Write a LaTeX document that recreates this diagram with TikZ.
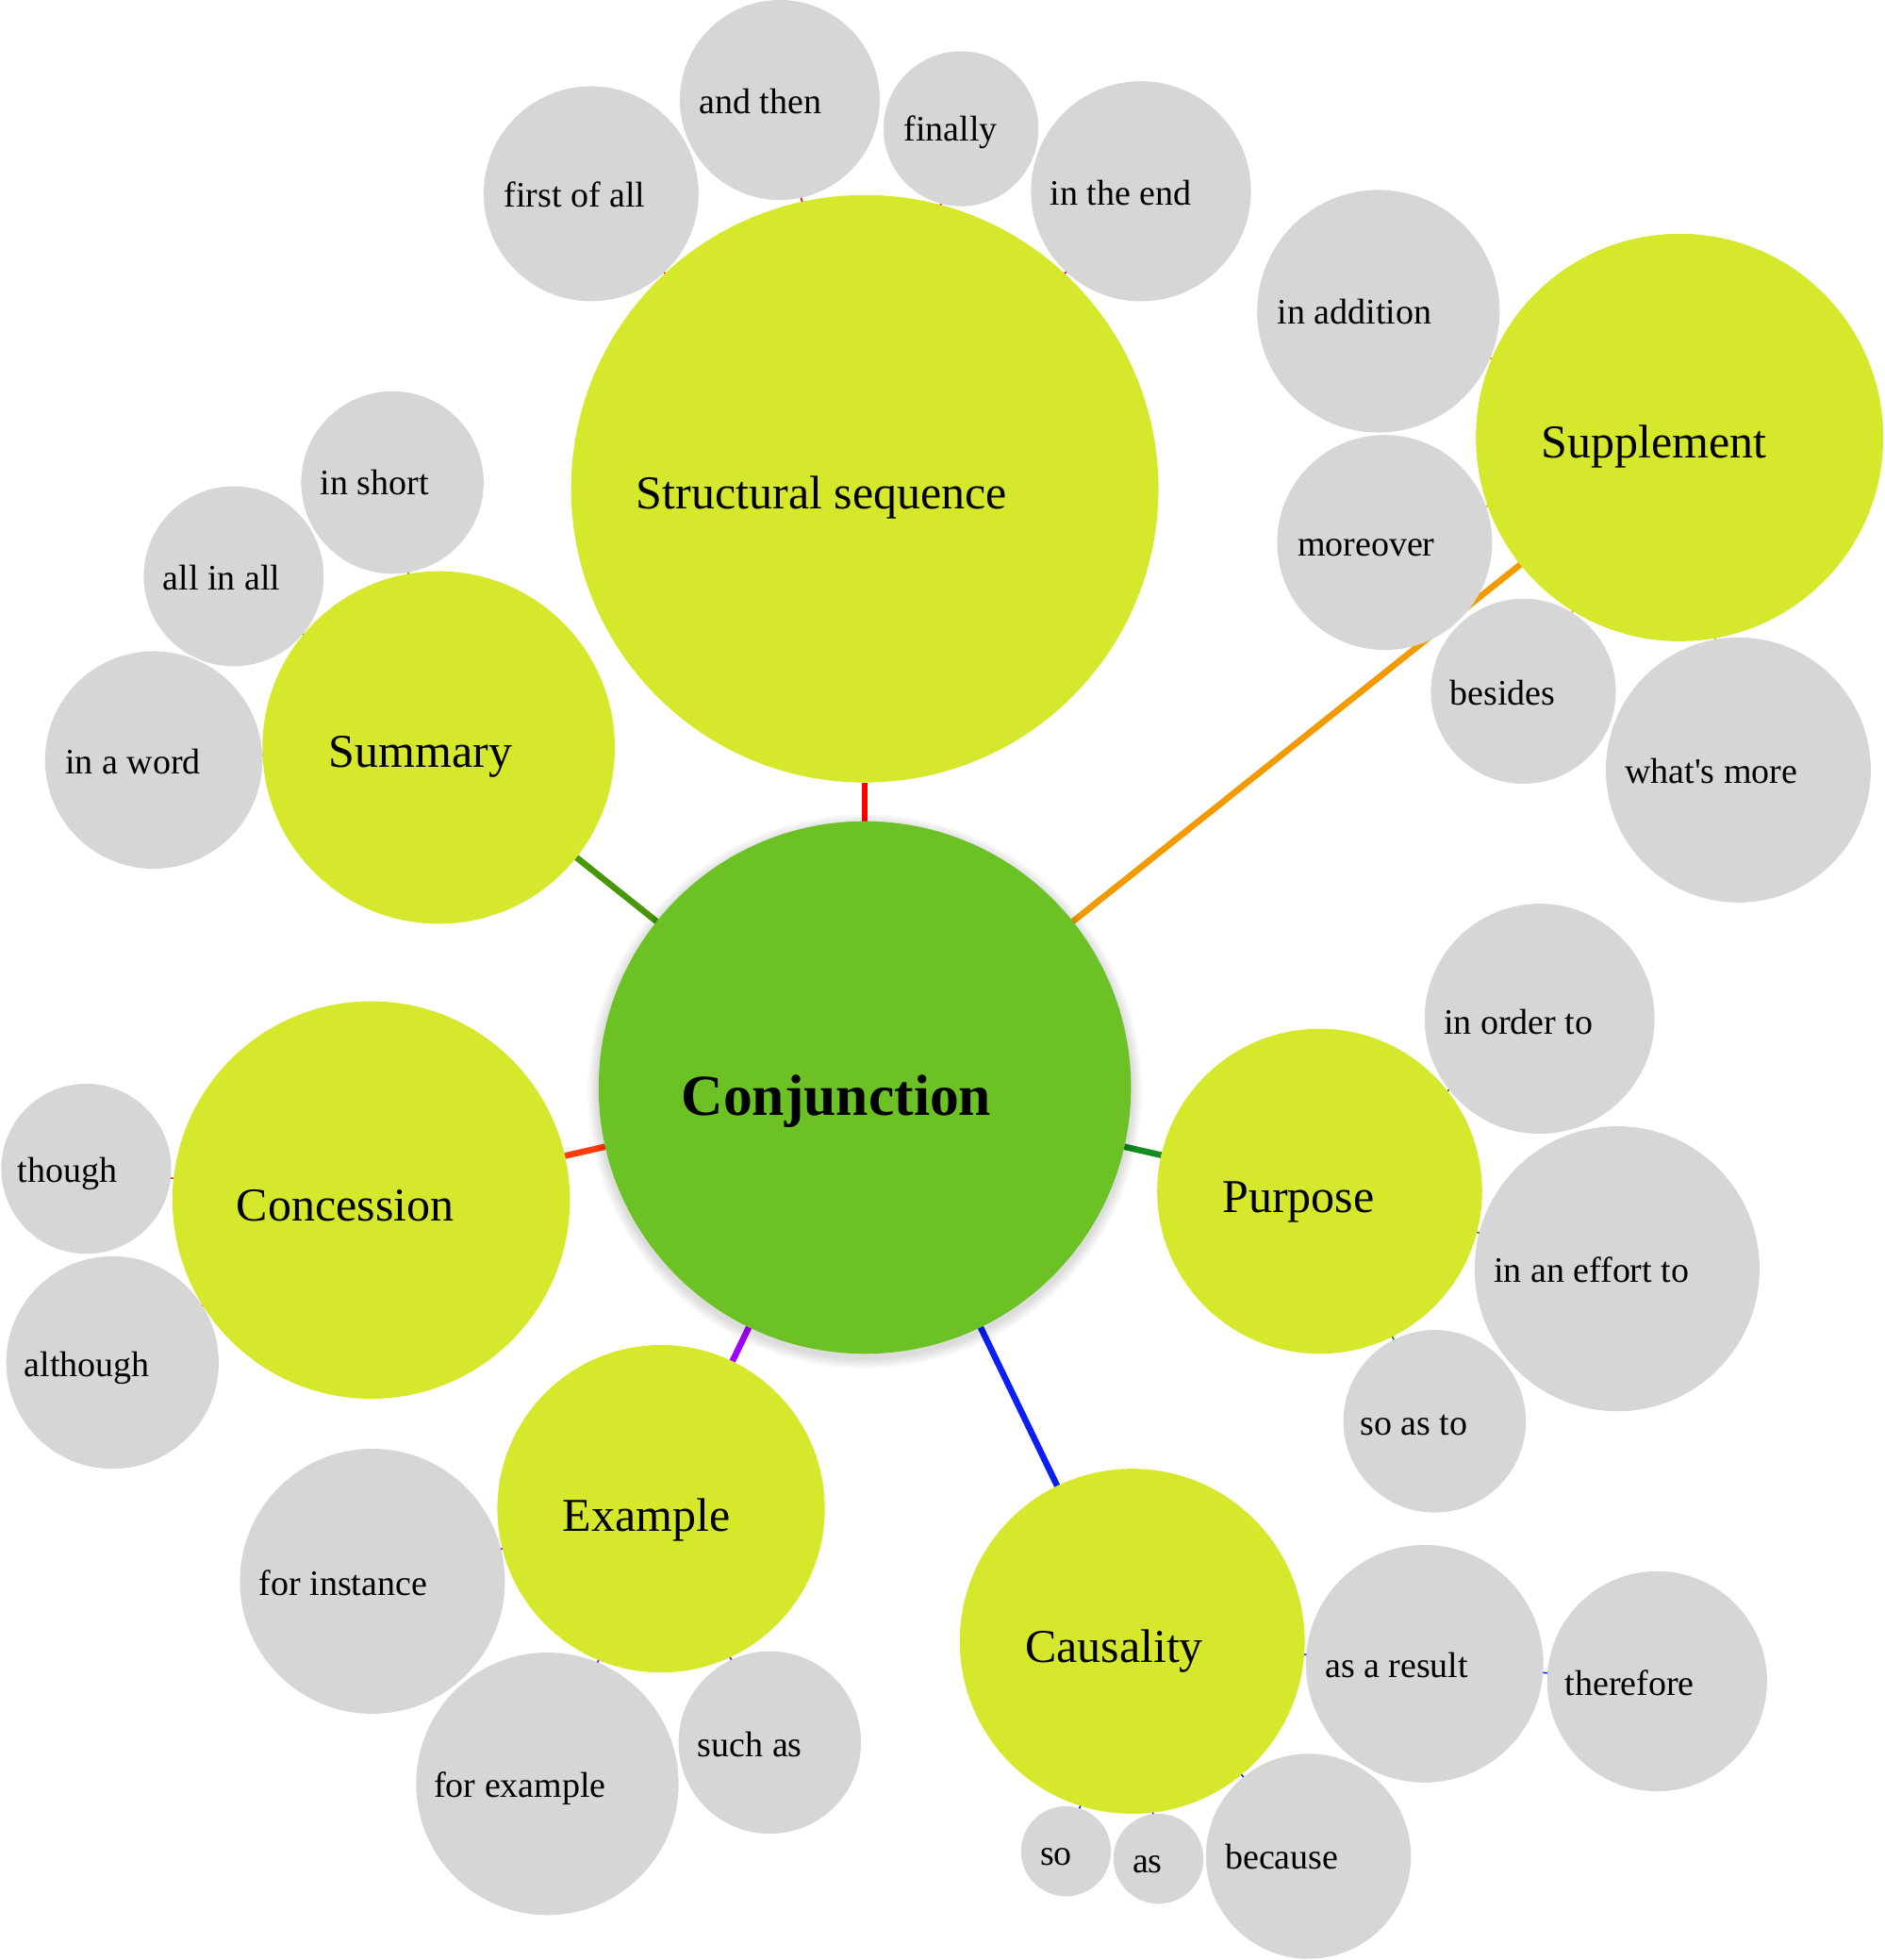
\documentclass[tikz,border=0pt]{standalone}
\usepackage{fontspec}
\setmainfont{Liberation Serif}
\pgfdeclarelayer{bg}
\pgfsetlayers{bg,main}
\definecolor{conjc}{RGB}{108,194,36}
\definecolor{catc}{RGB}{213,232,44}
\definecolor{grayc}{RGB}{214,214,214}
\definecolor{cStruct}{RGB}{255,0,0}
\definecolor{cSupp}{RGB}{243,154,0}
\definecolor{cSumm}{RGB}{72,150,10}
\definecolor{cConc}{RGB}{255,60,10}
\definecolor{cPurp}{RGB}{20,140,30}
\definecolor{cExam}{RGB}{160,0,255}
\definecolor{cCaus}{RGB}{10,30,245}
\begin{document}
\begin{tikzpicture}[x=0.6628pt,y=-0.6628pt,
  bub/.style={circle,inner sep=0pt,outer sep=0pt,draw=none,minimum size={#1*1.3256pt}},
  cat/.style={bub=#1,fill=catc},
  gry/.style={bub=#1,fill=grayc},
  ctxt/.style={anchor=base west,inner sep=0pt,font=\fontsize{25}{30}\selectfont},
  gtxt/.style={anchor=base west,inner sep=0pt,font=\fontsize{19}{23}\selectfont},
  link/.style={line width=3.3pt},
  tinylink/.style={line width=0.8pt}]
\useasboundingbox (0,0) rectangle (1508,1568);

% shadow of the central circle
\foreach \k in {1,...,9}
  \fill[black,opacity=0.014] (692,873) circle[radius={(213+\k)*0.6628pt}];

% central and category circles
\node[bub=213,fill=conjc] (conj) at (692,870) {};
\node[cat=235] (struct) at (692,391) {};
\node[cat=163] (supp) at (1344,350) {};
\node[cat=141] (summ) at (351,598) {};
\node[cat=159] (conc) at (297,960) {};
\node[cat=130] (purp) at (1056,953) {};
\node[cat=131] (exam) at (529,1207) {};
\node[cat=138] (caus) at (906,1313) {};

% grey circles
\node[gry=86] (g1) at (473,155) {};
\node[gry=80] (g2) at (624,80) {};
\node[gry=62] (g3) at (769,103) {};
\node[gry=88] (g4) at (913,153) {};
\node[gry=97] (g5) at (1103,249) {};
\node[gry=86] (g6) at (1108,434) {};
\node[gry=74] (g7) at (1219,553) {};
\node[gry=106] (g8) at (1391,616) {};
\node[gry=73] (g9) at (314,386) {};
\node[gry=72] (g10) at (187,461) {};
\node[gry=87] (g11) at (123,608) {};
\node[gry=68] (g12) at (69,935) {};
\node[gry=85] (g13) at (90,1090) {};
\node[gry=92] (g14) at (1232,815) {};
\node[gry=114] (g15) at (1294,1015) {};
\node[gry=73] (g16) at (1148,1137) {};
\node[gry=106] (g17) at (298,1265) {};
\node[gry=105] (g18) at (438,1427) {};
\node[gry=73] (g19) at (616,1394) {};
\node[gry=95] (g20) at (1140,1331) {};
\node[gry=88] (g21) at (1326,1345) {};
\node[gry=36] (g22) at (853,1481) {};
\node[gry=36] (g23) at (927,1487) {};
\node[gry=82] (g24) at (1047,1485) {};

% main connectors (behind circles)
\begin{pgfonlayer}{bg}
\draw[link,cStruct] (conj) -- (struct);
\draw[link,cSupp] (conj) -- (supp);
\draw[link,cSumm] (conj) -- (summ);
\draw[link,cConc] (conj) -- (conc);
\draw[link,cPurp] (conj) -- (purp);
\draw[link,cExam] (conj) -- (exam);
\draw[link,cCaus] (conj) -- (caus);
\end{pgfonlayer}

% tiny connectors between touching circles
\draw[tinylink,cStruct] (struct) -- (g1) (struct) -- (g2) (struct) -- (g3) (struct) -- (g4);
\draw[tinylink,cSupp] (supp) -- (g5) (supp) -- (g6) (supp) -- (g7) (supp) -- (g8);
\draw[tinylink,cSumm] (summ) -- (g9) (summ) -- (g10) (summ) -- (g11);
\draw[tinylink,cConc] (conc) -- (g12) (conc) -- (g13);
\draw[tinylink,cPurp] (purp) -- (g14) (purp) -- (g15) (purp) -- (g16);
\draw[tinylink,cExam] (exam) -- (g17) (exam) -- (g18) (exam) -- (g19);
\draw[tinylink,cCaus] (caus) -- (g20) (caus) -- (g22) (caus) -- (g23) (caus) -- (g24) (g20) -- (g21);

% texts
\node[anchor=base west,inner sep=0pt,font=\fontsize{30.8}{36}\selectfont\bfseries] (tconj) at (545,892) {Conjunction};
\node[ctxt] (tstruct) at (509,407) {Structural sequence};
\node[ctxt] (tsupp) at (1233,366) {Supplement};
\node[ctxt] (tsumm) at (263,614) {Summary};
\node[ctxt] (tconc) at (189,977) {Concession};
\node[ctxt] (tpurp) at (978,970) {Purpose};
\node[ctxt] (texam) at (450,1225) {Example};
\node[ctxt] (tcaus) at (820,1330) {Causality};

\node[gtxt] (tg1) at (403,166) {first of all};
\node[gtxt] (tg2) at (559,91) {and then};
\node[gtxt] (tg3) at (723,113) {finally};
\node[gtxt] (tg4) at (840,164) {in the end};
\node[gtxt] (tg5) at (1022,259) {in addition};
\node[gtxt] (tg6) at (1038,445) {moreover};
\node[gtxt] (tg7) at (1160,564) {besides};
\node[gtxt] (tg8) at (1300,627) {what\textquotesingle s more};
\node[gtxt] (tg9) at (256,396) {in short};
\node[gtxt] (tg10) at (130,472) {all in all};
\node[gtxt] (tg11) at (52,619) {in a word};
\node[gtxt] (tg12) at (14,946) {though};
\node[gtxt] (tg13) at (19,1101) {although};
\node[gtxt] (tg14) at (1155,827) {in order to};
\node[gtxt] (tg15) at (1195,1026) {in an effort to};
\node[gtxt] (tg16) at (1088,1148) {so as to};
\node[gtxt] (tg17) at (207,1276) {for instance};
\node[gtxt] (tg18) at (347,1438) {for example};
\node[gtxt] (tg19) at (558,1405) {such as};
\node[gtxt] (tg20) at (1060,1342) {as a result};
\node[gtxt] (tg21) at (1252,1356) {therefore};
\node[gtxt] (tg22) at (832,1492) {so};
\node[gtxt] (tg23) at (906,1498) {as};
\node[gtxt] (tg24) at (980,1495) {because};
\end{tikzpicture}
\end{document}
